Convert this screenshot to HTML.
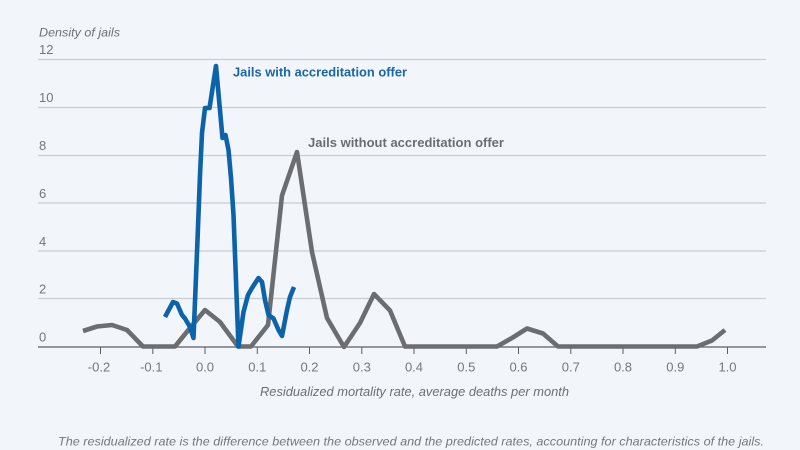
<!DOCTYPE html>
<html>
<head>
<meta charset="utf-8">
<style>
  html, body { margin: 0; padding: 0; background: #f2f6fa; }
  body { width: 800px; height: 450px; overflow: hidden; }
  svg { display: block; }
  text { font-family: "Liberation Sans", sans-serif; }
</style>
</head>
<body>
<svg width="800" height="450" viewBox="0 0 800 450" xmlns="http://www.w3.org/2000/svg">
  <rect x="0" y="0" width="800" height="450" fill="#f2f6fa"/>

  <!-- y-axis title -->
  <text x="39" y="36.5" font-size="12" font-style="italic" fill="#6e6e72" textLength="81" lengthAdjust="spacingAndGlyphs">Density of jails</text>

  <!-- gridlines -->
  <g stroke="#c9cdd2" stroke-width="1.3">
    <line x1="38" y1="59.5" x2="766" y2="59.5"/>
    <line x1="38" y1="107.5" x2="766" y2="107.5"/>
    <line x1="38" y1="155.5" x2="766" y2="155.5"/>
    <line x1="38" y1="203" x2="766" y2="203"/>
    <line x1="38" y1="251" x2="766" y2="251"/>
    <line x1="38" y1="298.5" x2="766" y2="298.5"/>
  </g>

  <!-- y labels -->
  <g font-size="13" fill="#75767a">
    <text x="39" y="54">12</text>
    <text x="39" y="102">10</text>
    <text x="39" y="150">8</text>
    <text x="39" y="198">6</text>
    <text x="39" y="246">4</text>
    <text x="39" y="293.5">2</text>
    <text x="39" y="341.5">0</text>
  </g>

  <!-- baseline axis -->
  <line x1="38" y1="347" x2="766" y2="347" stroke="#5c5d60" stroke-width="1.2"/>

  <!-- ticks -->
  <g stroke="#5c5d60" stroke-width="1">
    <line x1="100.5" y1="347" x2="100.5" y2="354"/>
    <line x1="152.8" y1="347" x2="152.8" y2="354"/>
    <line x1="205" y1="347" x2="205" y2="354"/>
    <line x1="257.3" y1="347" x2="257.3" y2="354"/>
    <line x1="309.5" y1="347" x2="309.5" y2="354"/>
    <line x1="361.8" y1="347" x2="361.8" y2="354"/>
    <line x1="414" y1="347" x2="414" y2="354"/>
    <line x1="466.3" y1="347" x2="466.3" y2="354"/>
    <line x1="518.5" y1="347" x2="518.5" y2="354"/>
    <line x1="570.8" y1="347" x2="570.8" y2="354"/>
    <line x1="623" y1="347" x2="623" y2="354"/>
    <line x1="675.3" y1="347" x2="675.3" y2="354"/>
    <line x1="727.5" y1="347" x2="727.5" y2="354"/>
  </g>

  <!-- x labels -->
  <g font-size="13" fill="#75767a" text-anchor="middle">
    <text x="99" y="371.5">-0.2</text>
    <text x="151.3" y="371.5">-0.1</text>
    <text x="205" y="371.5">0.0</text>
    <text x="257.3" y="371.5">0.1</text>
    <text x="309.5" y="371.5">0.2</text>
    <text x="361.8" y="371.5">0.3</text>
    <text x="414" y="371.5">0.4</text>
    <text x="466.3" y="371.5">0.5</text>
    <text x="518.5" y="371.5">0.6</text>
    <text x="570.8" y="371.5">0.7</text>
    <text x="623" y="371.5">0.8</text>
    <text x="675.3" y="371.5">0.9</text>
    <text x="727.5" y="371.5">1.0</text>
  </g>

  <!-- x-axis title -->
  <text x="260" y="396" font-size="13" font-style="italic" fill="#6e6e72" textLength="309" lengthAdjust="spacingAndGlyphs">Residualized mortality rate, average deaths per month</text>

  <!-- gray series -->
  <polyline fill="none" stroke="#6c6d70" stroke-width="4.6" stroke-linejoin="round" stroke-linecap="butt"
    points="83,331 97,326.5 112,325 127,330 143,346.5 175,346.5 190,328 205,310 220,322 238,346.5 251,346.5 268,325 282,195.5 297,152 312,252 327,318 344,347 360,323 374,294 390,310.5 405,346.5 497,346.5 512,338 527,328.5 543,333.5 558,346.5 697,346.5 712,340.5 725,330"/>

  <!-- blue series -->
  <polyline fill="none" stroke="#0d63a9" stroke-width="4.6" stroke-linejoin="round" stroke-linecap="butt"
    points="165,317 173,302 177,303.5 182,315 185,318.5 190,327 193.5,338 197.5,240 200,175 202,133 205,108 209.5,108 216,66 222.5,138 225.5,135 228.5,150 231,178 233.5,215 238.5,346.5 243.5,312 248,295 252,288 258.5,278 262,282 265,300 268.5,315 273.5,318.5 278.5,330 282,336 287,310 290,297 294,287"/>

  <!-- series labels -->
  <text x="233" y="76.5" font-size="13" font-weight="bold" fill="#1a65a8" textLength="174" lengthAdjust="spacingAndGlyphs">Jails with accreditation offer</text>
  <text x="308" y="147" font-size="13" font-weight="bold" fill="#6c6d70" textLength="196" lengthAdjust="spacingAndGlyphs">Jails without accreditation offer</text>

  <!-- footnote -->
  <text x="58" y="445.5" font-size="12" font-style="italic" fill="#76777b" textLength="706" lengthAdjust="spacingAndGlyphs">The residualized rate is the difference between the observed and the predicted rates, accounting for characteristics of the jails.</text>
  <text x="150" y="460" font-size="12" font-style="italic" fill="#8a8b8f" textLength="560" lengthAdjust="spacingAndGlyphs">Source: Researchers' calculations using data from jail death records and facility characteristics of the jails</text>
</svg>
</body>
</html>
